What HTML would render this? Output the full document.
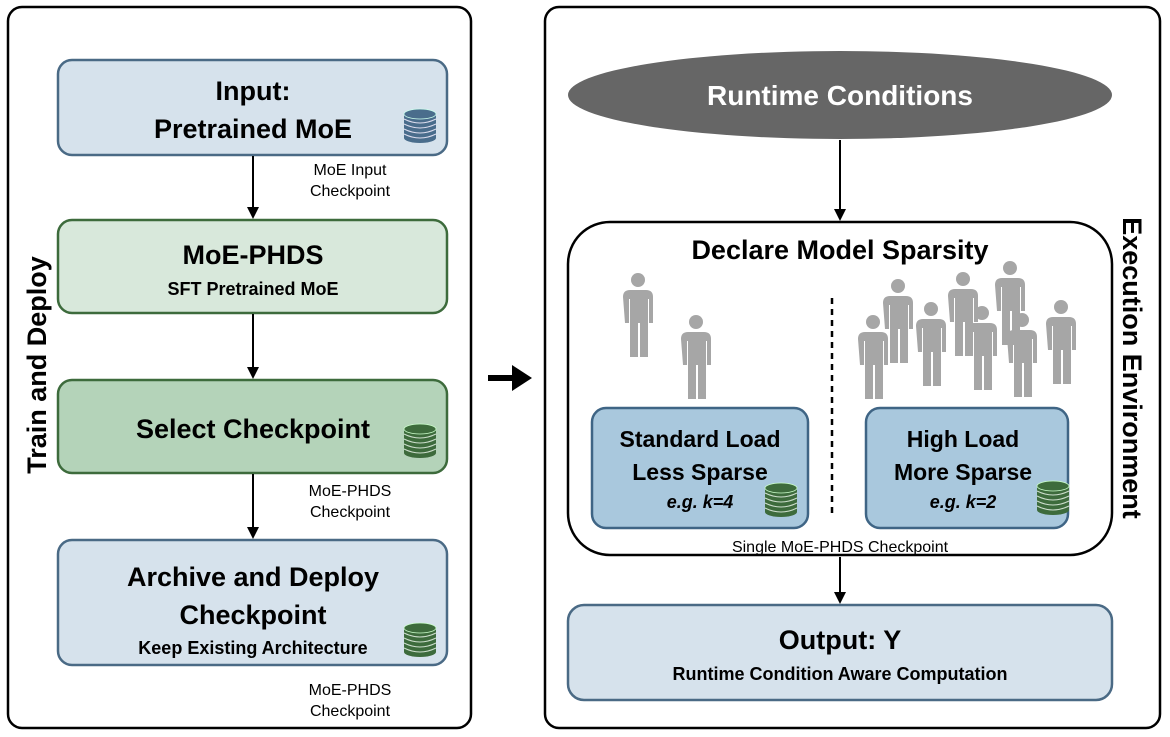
<!DOCTYPE html>
<html><head><meta charset="utf-8"><style>
html,body{margin:0;padding:0;background:#fff;}
svg{display:block;font-family:"Liberation Sans",Arial,sans-serif;}
.t{font-weight:bold;fill:#000;text-anchor:middle;}
.s{fill:#000;text-anchor:middle;font-size:16px;}
</style></head><body>
<svg width="1170" height="737" viewBox="0 0 1170 737" xmlns="http://www.w3.org/2000/svg">
<defs>
<marker id="ah" markerWidth="12" markerHeight="14" refX="10" refY="7" orient="auto" markerUnits="userSpaceOnUse"><path d="M0,1 L12,7 L0,13 z" fill="#000"/></marker>
<g id="dbb">
  <rect x="-16" y="-12" width="32" height="24" fill="#4a6d8c"/>
  <ellipse cx="0" cy="12" rx="16" ry="5" fill="#4a6d8c"/>
  <ellipse cx="0" cy="-12" rx="16" ry="5" fill="#4a6d8c" stroke="#cfe" stroke-width="0.8"/>
  <path d="M-16,-7 q16,8 32,0 M-16,-2 q16,8 32,0 M-16,3 q16,8 32,0 M-16,8 q16,8 32,0" stroke="#dde" stroke-width="1" fill="none"/>
</g>
<g id="dbg">
  <rect x="-16" y="-12" width="32" height="24" fill="#3d6b3c"/>
  <ellipse cx="0" cy="12" rx="16" ry="5" fill="#3d6b3c"/>
  <ellipse cx="0" cy="-12" rx="16" ry="5" fill="#3d6b3c" stroke="#cfc" stroke-width="0.8"/>
  <path d="M-16,-7 q16,8 32,0 M-16,-2 q16,8 32,0 M-16,3 q16,8 32,0 M-16,8 q16,8 32,0" stroke="#cdc" stroke-width="1" fill="none"/>
</g>
<g id="p" fill="#a6a6a6">
  <circle cx="0" cy="7" r="7"/>
  <path d="M-15,24 q0,-7 7,-7 h16 q7,0 7,7 v26 h-4 v-24 h-1 v58 h-8 v-34 h-2 v34 h-8 v-58 h-1 v24 h-4 z"/>
</g>
</defs>

<!-- Left panel -->
<rect x="8" y="7" width="463" height="721" rx="14" fill="#fff" stroke="#000" stroke-width="2.5"/>
<text class="t" font-size="27" transform="translate(46,365) rotate(-90)">Train and Deploy</text>

<rect x="58" y="60" width="389" height="95" rx="14" fill="#d6e2ec" stroke="#4a6a85" stroke-width="2.5"/>
<text class="t" x="253" y="100" font-size="27">Input:</text>
<text class="t" x="253" y="138" font-size="27">Pretrained MoE</text>
<use href="#dbb" x="420" y="126"/>
<line x1="253" y1="156" x2="253" y2="217" stroke="#000" stroke-width="2" marker-end="url(#ah)"/>
<text class="s" x="350" y="175">MoE Input</text>
<text class="s" x="350" y="196">Checkpoint</text>

<rect x="58" y="220" width="389" height="93" rx="14" fill="#d8e8db" stroke="#3d6b3c" stroke-width="2.5"/>
<text class="t" x="253" y="264" font-size="27">MoE-PHDS</text>
<text class="t" x="253" y="295" font-size="18">SFT Pretrained MoE</text>
<line x1="253" y1="314" x2="253" y2="377" stroke="#000" stroke-width="2" marker-end="url(#ah)"/>

<rect x="58" y="380" width="389" height="93" rx="14" fill="#b4d3b9" stroke="#3d6b3c" stroke-width="2.5"/>
<text class="t" x="253" y="438" font-size="27">Select Checkpoint</text>
<use href="#dbg" x="420" y="441"/>
<line x1="253" y1="474" x2="253" y2="537" stroke="#000" stroke-width="2" marker-end="url(#ah)"/>
<text class="s" x="350" y="496">MoE-PHDS</text>
<text class="s" x="350" y="517">Checkpoint</text>

<rect x="58" y="540" width="389" height="125" rx="14" fill="#d6e2ec" stroke="#4a6a85" stroke-width="2.5"/>
<text class="t" x="253" y="586" font-size="27">Archive and Deploy</text>
<text class="t" x="253" y="624" font-size="27">Checkpoint</text>
<text class="t" x="253" y="654" font-size="18">Keep Existing Architecture</text>
<use href="#dbg" x="420" y="640"/>
<text class="s" x="350" y="695">MoE-PHDS</text>
<text class="s" x="350" y="716">Checkpoint</text>

<!-- middle arrow -->
<line x1="488" y1="378" x2="514" y2="378" stroke="#000" stroke-width="6"/>
<path d="M512,365 L532,378 L512,391 z" fill="#000"/>

<!-- Right panel -->
<rect x="545" y="7" width="615" height="721" rx="14" fill="#fff" stroke="#000" stroke-width="2.5"/>
<text class="t" font-size="27" transform="translate(1123,368) rotate(90)">Execution Environment</text>
<ellipse cx="840" cy="95" rx="272" ry="44" fill="#666"/>
<text class="t" x="840" y="105" font-size="28" style="fill:#fff">Runtime Conditions</text>
<line x1="840" y1="140" x2="840" y2="219" stroke="#000" stroke-width="2" marker-end="url(#ah)"/>

<rect x="568" y="222" width="544" height="333" rx="42" fill="#fff" stroke="#000" stroke-width="2.5"/>
<text class="t" x="840" y="259" font-size="27">Declare Model Sparsity</text>

<use href="#p" x="638" y="273"/>
<use href="#p" x="696" y="315"/>
<line x1="832" y1="298" x2="832" y2="516" stroke="#000" stroke-width="2.5" stroke-dasharray="6,5"/>
<use href="#p" x="898" y="279"/>
<use href="#p" x="963" y="272"/>
<use href="#p" x="1010" y="261"/>
<use href="#p" x="873" y="315"/>
<use href="#p" x="931" y="302"/>
<use href="#p" x="982" y="306"/>
<use href="#p" x="1022" y="313"/>
<use href="#p" x="1061" y="300"/>

<rect x="592" y="408" width="216" height="120" rx="14" fill="#a9c8dd" stroke="#3f6585" stroke-width="2.5"/>
<text class="t" x="700" y="447" font-size="23">Standard Load</text>
<text class="t" x="700" y="480" font-size="23">Less Sparse</text>
<text class="t" x="700" y="508" font-size="18" font-style="italic">e.g. k=4</text>
<use href="#dbg" x="781" y="500"/>

<rect x="866" y="408" width="202" height="120" rx="14" fill="#a9c8dd" stroke="#3f6585" stroke-width="2.5"/>
<text class="t" x="963" y="447" font-size="23">High Load</text>
<text class="t" x="963" y="480" font-size="23">More Sparse</text>
<text class="t" x="963" y="508" font-size="18" font-style="italic">e.g. k=2</text>
<use href="#dbg" x="1053" y="498"/>

<text class="s" x="840" y="552">Single MoE-PHDS Checkpoint</text>
<line x1="840" y1="557" x2="840" y2="602" stroke="#000" stroke-width="2" marker-end="url(#ah)"/>

<rect x="568" y="605" width="544" height="95" rx="16" fill="#d6e2ec" stroke="#4a6a85" stroke-width="2.5"/>
<text class="t" x="840" y="649" font-size="27">Output: Y</text>
<text class="t" x="840" y="680" font-size="18">Runtime Condition Aware Computation</text>
</svg>
</body></html>
